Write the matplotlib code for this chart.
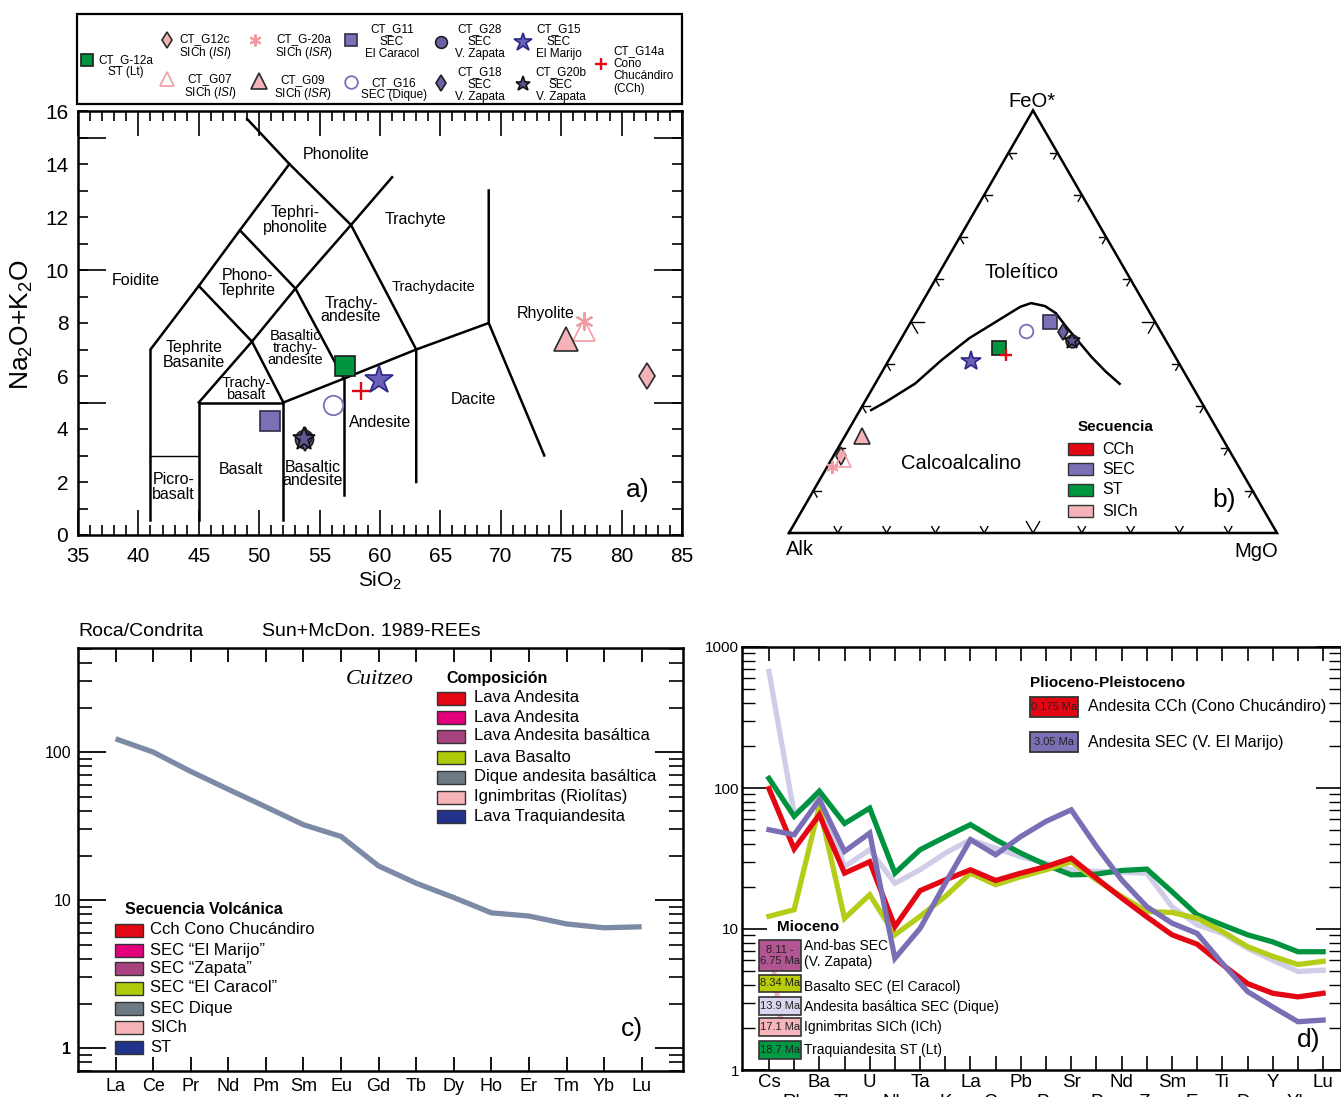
import numpy as np
import matplotlib.pyplot as plt
from matplotlib.patches import Rectangle
from matplotlib.ticker import (MultipleLocator, FixedLocator, FuncFormatter,
                               LogLocator, NullFormatter)

plt.rcParams['font.family'] = ['Liberation Sans', 'DejaVu Sans']
plt.rcParams['mathtext.fontset'] = 'custom'
plt.rcParams['mathtext.rm'] = 'Liberation Sans'
plt.rcParams['mathtext.it'] = 'Liberation Sans:italic'
plt.rcParams['mathtext.bf'] = 'Liberation Sans:bold'

W, H = 1341, 1097

# ---------------- data ----------------
# samples shared by the TAS (a) and AFM (b) diagrams
samples = ['CT_G-12a', 'CT_G12c', 'CT_G07', 'CT_G-20a', 'CT_G09', 'CT_G11',
           'CT_G16', 'CT_G28', 'CT_G18', 'CT_G15', 'CT_G20b', 'CT_G14a']
sample_text = ['CT_G-12a\nST (Lt)', 'CT_G12c\nSICh ($\\mathit{ISI}$)',
               'CT_G07\nSICh ($\\mathit{ISI}$)', 'CT_G-20a\nSICh ($\\mathit{ISR}$)',
               'CT_G09\nSICh ($\\mathit{ISR}$)', 'CT_G11\nSEC\nEl Caracol',
               'CT_G16\nSEC (Dique)', 'CT_G28\nSEC\nV. Zapata', 'CT_G18\nSEC\nV. Zapata',
               'CT_G15\nSEC\nEl Marijo', 'CT_G20b\nSEC\nV. Zapata',
               'CT_G14a\nCono\nChucándiro\n(CCh)']
sio2 = [57.1, 82.1, 76.9, 76.9, 75.4, 50.9, 56.1, 53.7, 53.8, 59.9, 53.7, 58.4]
alkalis = [6.37, 6.0, 7.75, 8.07, 7.4, 4.29, 4.92, 3.62, 3.62, 5.86, 3.62, 5.42]
afm_alk = [35.0, 80.3, 80.2, 83.4, 73.6, 21.5, 27.4, 19.3, 20.1, 42.3, 19.3, 34.5]
afm_feo = [43.8, 18.2, 17.4, 15.5, 22.9, 49.9, 47.9, 45.5, 47.6, 40.7, 45.5, 42.1]
afm_mgo = [21.2, 1.5, 2.4, 1.1, 3.5, 28.6, 24.7, 35.2, 32.3, 17.0, 35.2, 23.4]

# Irvine & Baragar boundary (FeO*, MgO in %, Alk = rest)
ib_feo = [29.1, 31.1, 35.4, 40.9, 46.1, 50.4, 53.5, 54.4, 53.7, 52.0, 48.8, 45.7, 41.7, 38.2, 35.3]
ib_mgo = [2.3, 4.4, 8.2, 10.8, 13.9, 17.8, 20.6, 22.4, 25.6, 28.7, 32.4, 36.2, 41.1, 45.8, 50.1]

# TAS field boundaries (Le Bas et al. 1986)
tas_lines = [
    ([41, 41, 45, 48.4, 52.5, 49.0], [0.55, 7, 9.4, 11.5, 14, 15.7]),
    ([52.5, 57.6, 63, 63], [14, 11.7, 7, 2.0]),
    ([45, 45, 52, 52], [0.55, 5, 5, 0.55]),
    ([45, 49.4, 53, 57.6, 61], [5, 7.3, 9.3, 11.7, 13.5]),
    ([45, 49.4, 52], [9.4, 7.3, 5]),
    ([48.4, 53, 57], [11.5, 9.3, 5.9]),
    ([52, 57, 63, 69, 69], [5, 5.9, 7, 8, 13]),
    ([57, 57], [5.9, 1.5]),
    ([69, 73.6], [8, 3.0]),
]
tas_fields = ['Phonolite', 'Tephri-\nphonolite', 'Trachyte', 'Foidite', 'Phono-\nTephrite',
              'Trachy-\nandesite', 'Trachydacite', 'Rhyolite', 'Tephrite\nBasanite',
              'Basaltic\ntrachy-\nandesite', 'Trachy-\nbasalt', 'Andesite', 'Dacite',
              'Picro-\nbasalt', 'Basalt', 'Basaltic\nandesite']
field_xy = [(56.4, 14.37), (53.0, 11.9), (62.9, 11.9), (39.8, 9.6), (49.0, 9.5),
            (57.6, 8.5), (64.4, 9.34), (73.7, 8.36), (44.6, 6.8), (53.0, 7.05),
            (48.9, 5.5), (60.0, 4.24), (67.7, 5.1), (42.9, 1.8), (48.5, 2.46), (54.4, 2.3)]

# c) REE chondrite normalised
ree = ['La', 'Ce', 'Pr', 'Nd', 'Pm', 'Sm', 'Eu', 'Gd', 'Tb', 'Dy', 'Ho', 'Er', 'Tm', 'Yb', 'Lu']
ree_norm = [123, 100, 74, 56, 42.6, 32.3, 26.9, 17.0, 13.0, 10.4, 8.2, 7.8, 6.9, 6.5, 6.6]
comp_labels = ['Lava Andesita', 'Lava Andesita', 'Lava Andesita basáltica', 'Lava Basalto',
               'Dique andesita basáltica', 'Ignimbritas (Riolítas)', 'Lava Traquiandesita']
seq_labels = ['Cch Cono Chucándiro', 'SEC “El Marijo”', 'SEC “Zapata”', 'SEC “El Caracol”',
              'SEC Dique', 'SICh', 'ST']
leg_colors = ['#e30613', '#e4007c', '#a8437f', '#afca0b', '#6d7a84', '#f6b4b8', '#22318a']

# d) multi-element spider diagram
spider = ['Cs', 'Rb', 'Ba', 'Th', 'U', 'Nb', 'Ta', 'K', 'La', 'Ce', 'Pb', 'Pr', 'Sr', 'P',
          'Nd', 'Zr', 'Sm', 'Eu', 'Ti', 'Dy', 'Y', 'Yb', 'Lu']
dique = [671, 66, 87, 27.7, 36.5, 21.1, 26.3, 34.5, 43, 37.4, 32.6, 29.3, 26.3, 25.6,
         25.3, 24.9, 14.4, 10.7, 9.3, 7.3, 6.0, 5.0, 5.1]
st_lt = [117, 63, 95, 56, 72, 24.9, 36.5, 45, 55, 43, 34.5, 28.5, 24.2, 24.5,
         26, 26.6, 18.4, 12.6, 10.7, 9.1, 8.1, 6.9, 6.9]
caracol = [12.3, 13.7, 74, 11.9, 17.5, 9.1, 12.3, 17, 24.9, 20.6, 23.5, 26.3, 30, 22.3,
           17, 13.3, 13.1, 11.9, 9.6, 7.5, 6.4, 5.6, 5.9]
cch = [99, 37, 64.6, 24.9, 30, 10.4, 18.7, 22.3, 26.3, 22.1, 24.9, 27.7, 31.8, 22.9,
       16.6, 12.2, 9.1, 7.8, 5.6, 4.1, 3.5, 3.3, 3.5]
marijo = [50.6, 46.6, 82.6, 35.5, 47.9, 6.2, 10.1, 21.1, 43, 33.6, 45.3, 58, 70, 38.5,
          22.3, 14.4, 11, 9.3, 5.7, 3.6, 2.8, 2.2, 2.26]
plio_ages = ['0.175 Ma', '3.05 Ma']
plio_labels = ['Andesita CCh (Cono Chucándiro)', 'Andesita SEC (V. El Marijo)']
mio_ages = ['8.11 -\n6.75 Ma', '8.34 Ma', '13.9 Ma', '17.1 Ma', '18.7 Ma']
mio_labels = ['And-bas SEC\n(V. Zapata)', 'Basalto SEC (El Caracol)',
              'Andesita basáltica SEC (Dique)', 'Ignimbritas SICh (ICh)', 'Traquiandesita ST (Lt)']

# ---------------- styles ----------------
RED, PURPLE, GREEN, PINK = '#e30613', '#7b70b6', '#009640', '#f4b3b9'
style = {
    'CT_G-12a': dict(marker='s', mfc=GREEN, mec='#1e1e1e', ms=14, mew=1.2),
    'CT_G12c': dict(marker='d', mfc=PINK, mec='#2a2a2a', ms=13, mew=1.2),
    'CT_G07': dict(marker='^', mfc='none', mec='#f2a3aa', ms=16, mew=1.3),
    'CT_G-20a': dict(marker=(6, 2, 0), mfc='#f19aa3', mec='#f19aa3', ms=13, mew=1.5),
    'CT_G09': dict(marker='^', mfc=PINK, mec='#2a2a2a', ms=17, mew=1.2),
    'CT_G11': dict(marker='s', mfc=PURPLE, mec='#2e2e4a', ms=14, mew=1.2),
    'CT_G16': dict(marker='o', mfc='none', mec=PURPLE, ms=14, mew=1.3),
    'CT_G28': dict(marker='o', mfc='#6a62a8', mec='#1e1e1e', ms=13, mew=1.2),
    'CT_G18': dict(marker='d', mfc='#6a62a8', mec='#1e1e1e', ms=12, mew=1.2),
    'CT_G15': dict(marker='*', mfc='#6b62b8', mec='#2b2886', ms=21, mew=1.2),
    'CT_G20b': dict(marker='*', mfc='#5e5894', mec='#111111', ms=17, mew=1.2),
    'CT_G14a': dict(marker='+', mfc=RED, mec=RED, ms=13, mew=1.7),
}


def box(x0, y0, x1, y1):
    return [x0 / W, 1 - y1 / H, (x1 - x0) / W, (y1 - y0) / H]


def scaled(st, k):
    d = dict(st)
    d['ms'] = st['ms'] * k
    return d


fig = plt.figure(figsize=(W / 100, H / 100), dpi=100)

# ================= a) TAS =================
axa = fig.add_axes(box(78, 111, 682, 535))
for xs, ys in tas_lines:
    axa.plot(xs, ys, color='black', lw=1.8, solid_joinstyle='miter')
axa.plot([41, 45], [3, 3], color='black', lw=1.0)
for name, (fx, fy) in zip(tas_fields, field_xy):
    fs = 10.5 if name in ('Trachydacite', 'Basaltic\ntrachy-\nandesite', 'Trachy-\nbasalt') else 11.5
    ls = 0.8 if name in ('Basaltic\ntrachy-\nandesite', 'Trachy-\nbasalt', 'Basaltic\nandesite',
                         'Trachy-\nandesite') else 1.0
    axa.text(fx, fy, name, ha='center', va='center', fontsize=fs, linespacing=ls)
for name, x, y in zip(samples, sio2, alkalis):
    axa.plot(x, y, linestyle='none', zorder=5, **style[name])
axa.text(81.3, 1.7, 'a)', fontsize=19, ha='center', va='center')
axa.set_xlim(35, 85)
axa.set_ylim(0, 16)
axa.xaxis.set_major_locator(MultipleLocator(5))
axa.xaxis.set_minor_locator(MultipleLocator(1))
axa.yaxis.set_major_locator(MultipleLocator(1))
axa.yaxis.set_major_formatter(FuncFormatter(
    lambda v, p: f'{int(round(v))}' if int(round(v)) % 2 == 0 else ''))
axa.yaxis.set_minor_locator(FixedLocator([5, 10, 15]))
axa.yaxis.remove_overlapping_locs = False
axa.tick_params(axis='x', which='major', direction='in', length=18, width=1.2,
                top=True, labelsize=15, pad=9)
axa.tick_params(axis='x', which='minor', direction='in', length=7, width=1.2, top=True)
axa.tick_params(axis='y', which='major', direction='in', length=7, width=1.2,
                right=True, labelsize=15, pad=7)
axa.tick_params(axis='y', which='minor', direction='in', length=20, width=1.2, right=True)
for sp in axa.spines.values():
    sp.set_linewidth(1.8)

# ================= b) AFM =================
s3 = np.sqrt(3) / 2
axb = fig.add_axes(box(760, 80, 1320, 580))
axb.set_xlim((760 - 789) / 488, (1320 - 789) / 488)
axb.set_ylim((533 - 580) / 488, (533 - 80) / 488)
axb.axis('off')


def tern(a, f, m):
    a, f, m = (np.asarray(v, float) for v in (a, f, m))
    tot = a + f + m
    return (m + f / 2) / tot, f / tot * s3


axb.plot([0, 1, 0.5, 0], [0, 0, s3, 0], color='black', lw=1.8, solid_joinstyle='miter')
edges = [((0, 0), (1, 0), [(0.5, s3), (-0.5, s3)]),
         ((0, 0), (0.5, s3), [(1, 0), (0.5, -s3)]),
         ((1, 0), (0.5, s3), [(-1, 0), (-0.5, -s3)])]
for p0, p1, dirs in edges:
    for i in range(1, 10):
        t = i / 10
        px = p0[0] + t * (p1[0] - p0[0])
        py = p0[1] + t * (p1[1] - p0[1])
        ln = 0.027 if i == 5 else 0.015
        for dx, dy in dirs:
            axb.plot([px, px + dx * ln], [py, py + dy * ln], color='black', lw=1.0)
cx, cy = tern(100 - np.array(ib_feo) - np.array(ib_mgo), ib_feo, ib_mgo)
axb.plot(cx, cy, color='black', lw=1.8)
tx, ty = tern(afm_alk, afm_feo, afm_mgo)
for name, x, y in zip(samples, tx, ty):
    axb.plot(x, y, linestyle='none', zorder=5, **scaled(style[name], 0.7))
axb.text(0.498, 0.885, 'FeO*', fontsize=14.5, ha='center', va='center')
axb.text(0.0225, -0.033, 'Alk', fontsize=14.5, ha='center', va='center')
axb.text(0.957, -0.037, 'MgO', fontsize=14.5, ha='center', va='center')
axb.text(0.4775, 0.533, 'Toleítico', fontsize=14.5, ha='center', va='center')
axb.text(0.352, 0.143, 'Calcoalcalino', fontsize=14.5, ha='center', va='center')
axb.text(0.891, 0.068, 'b)', fontsize=19, ha='center', va='center')

# ================= c) REE =================
axc = fig.add_axes(box(78, 648, 683, 1071))
xr = np.arange(len(ree))
axc.plot(xr, ree_norm, color='#7d8aa5', lw=3.8, solid_capstyle='butt')
axc.set_yscale('log')
axc.set_xlim(-1.0, 15.1)
axc.set_ylim(0.7, 505)
axc.set_xticks(xr)
axc.set_xticklabels(ree)
axc.yaxis.set_major_locator(FixedLocator([1, 10, 100]))
axc.yaxis.set_minor_locator(LogLocator(base=10, subs=np.arange(2, 10)))
axc.yaxis.set_minor_formatter(NullFormatter())
axc.set_yticklabels(['1', '10', '100'])
axc.get_yticklabels()[0].set_fontweight('bold')
axc.tick_params(axis='x', direction='in', length=10, width=1.3, top=True, labelsize=13, pad=5)
axc.tick_params(axis='y', which='major', direction='in', length=20, width=1.3,
                right=True, labelsize=11.5, pad=5)
axc.tick_params(axis='y', which='minor', direction='in', length=10, width=1.2, right=True)
for sp in axc.spines.values():
    sp.set_linewidth(1.8)

# ================= d) spider =================
axd = fig.add_axes(box(742, 647, 1341, 1070))
xs = np.arange(len(spider))
for vals, col in [(dique, '#cfcde8'), (st_lt, '#00933f'), (caracol, '#b5cc18'),
                  (cch, RED), (marijo, '#7a6eb4')]:
    axd.plot(xs, vals, color=col, lw=3.8, solid_joinstyle='miter')
axd.set_yscale('log')
axd.set_ylim(1, 1000)
axd.set_xlim(-1.07, 22.71)
axd.set_xticks(xs)
axd.set_xticklabels([e if i % 2 == 0 else '\n' + e for i, e in enumerate(spider)])
axd.yaxis.set_major_locator(LogLocator(base=10))
axd.yaxis.set_minor_locator(LogLocator(base=10, subs=np.arange(2, 10)))
axd.yaxis.set_minor_formatter(NullFormatter())
axd.yaxis.set_major_formatter(FuncFormatter(lambda v, p: f'{v:g}'))
axd.tick_params(axis='x', direction='in', length=10, width=1.2, top=True, labelsize=13.5,
                pad=3)
axd.tick_params(axis='y', which='major', direction='in', length=18, width=1.2,
                right=True, labelsize=11, pad=2)
axd.tick_params(axis='y', which='minor', direction='in', length=9, width=1.0, right=True)
for sp in axd.spines.values():
    sp.set_linewidth(1.8)

# ================= overlay: legends and free text =================
ov = fig.add_axes([0, 0, 1, 1])
ov.set_xlim(0, W)
ov.set_ylim(H, 0)
ov.axis('off')


def patch(x0, y0, x1, y1, color, lw=1.0):
    ov.add_patch(Rectangle((x0, y0), x1 - x0, y1 - y0, facecolor=color,
                           edgecolor='#333333', lw=lw))


# top sample legend
ov.add_patch(Rectangle((77, 14), 605, 90, facecolor='none', edgecolor='black', lw=1.6))
leg_pos = {  # marker x, marker y, text x, text y, ha
    'CT_G-12a': (87, 60, 126, 66, 'center'),
    'CT_G12c': (167, 40, 205, 47, 'center'),
    'CT_G-20a': (255, 40, 304, 47, 'center'),
    'CT_G11': (351, 40, 392, 42, 'center'),
    'CT_G28': (441, 42, 480, 42, 'center'),
    'CT_G15': (523, 42, 559, 42, 'center'),
    'CT_G14a': (601, 64, 613, 70, 'left'),
    'CT_G07': (167, 79, 210, 87, 'center'),
    'CT_G09': (259, 81, 303, 88, 'center'),
    'CT_G16': (351, 82, 394, 89, 'center'),
    'CT_G18': (441, 83, 480, 85, 'center'),
    'CT_G20b': (523, 84, 561, 85, 'center'),
}
for name, txt in zip(samples, sample_text):
    mx, my, lx, ly, ha = leg_pos[name]
    ov.plot(mx, my, linestyle='none', **scaled(style[name], 0.65))
    ov.text(lx, ly, txt, fontsize=8.5, ha=ha, va='center', linespacing=1.05)

# axis titles for a)
ov.text(22, 325, 'Na$_2$O+K$_2$O', fontsize=19, rotation=90, ha='center', va='center')
ov.text(380, 581, 'SiO$_2$', fontsize=15, ha='center', va='center')

# legend b)
ov.text(1116, 427, 'Secuencia', fontsize=11, fontweight='bold', ha='center', va='center')
for lab, col, yc in zip(['CCh', 'SEC', 'ST', 'SICh'], [RED, PURPLE, GREEN, PINK],
                        [449, 469, 490, 511]):
    patch(1068, yc - 6, 1093, yc + 6, col)
    ov.text(1102, yc, lab, fontsize=11.5, ha='left', va='center')

# texts and legends c)
ov.text(78, 632, 'Roca/Condrita', fontsize=14, ha='left', va='center')
ov.text(262, 632, 'Sun+McDon. 1989-REEs', fontsize=14, ha='left', va='center')
ov.text(380, 679, 'Cuitzeo', fontsize=16, family='Liberation Serif', style='italic',
        ha='center', va='center')
ov.text(446, 679, 'Composición', fontsize=11.5, fontweight='bold', ha='left', va='center')
for lab, col, yc in zip(comp_labels, leg_colors, [698, 717, 736, 757, 777, 797, 816]):
    patch(437, yc - 6.5, 465, yc + 6.5, col)
    ov.text(474, yc, lab, fontsize=12, ha='left', va='center')
ov.text(125, 909, 'Secuencia Volcánica', fontsize=11.5, fontweight='bold', ha='left',
        va='center')
for lab, col, yc in zip(seq_labels, leg_colors, [930, 950, 968, 988, 1008, 1027, 1047]):
    patch(115, yc - 6.5, 143, yc + 6.5, col)
    ov.text(150, yc, lab, fontsize=12, ha='left', va='center')
ov.text(632, 1029, 'c)', fontsize=19, ha='center', va='center')

# legends d)
ov.text(1030, 683, 'Plioceno-Pleistoceno', fontsize=11, fontweight='bold', ha='left',
        va='center')
for age, lab, col, (y0, y1) in zip(plio_ages, plio_labels, [RED, '#7a6eb4'],
                                   [(697, 717), (732, 752)]):
    patch(1030, y0, 1078, y1, col, lw=1.3)
    ov.text(1054, (y0 + y1) / 2, age, fontsize=8, ha='center', va='center', color='#222222')
    ov.text(1088, (y0 + y1) / 2, lab, fontsize=11.5, ha='left', va='center')
ov.text(777, 927, 'Mioceno', fontsize=11, fontweight='bold', ha='left', va='center')
ov.plot([772, 782], [958, 1030], color='#f6b4b8', lw=3.5, zorder=1)
mio_colors = ['#b25592', '#b8cc0a', '#d9d6ee', '#f6b5bb', '#009a44']
mio_boxes = [(940, 971), (975, 992), (997, 1015), (1018, 1036), (1041, 1059)]
mio_text_y = [954, 987, 1007, 1027, 1050]
for age, lab, col, (y0, y1), ly in zip(mio_ages, mio_labels, mio_colors, mio_boxes, mio_text_y):
    patch(759, y0, 801, y1, col, lw=1.2)
    ov.text(780, (y0 + y1) / 2, age, fontsize=8, ha='center', va='center',
            color='#222222', linespacing=1.1)
    ov.text(804, ly, lab, fontsize=10, ha='left', va='center', linespacing=1.1)
ov.text(1309, 1040, 'd)', fontsize=19, ha='center', va='center')

fig.savefig('out.png', dpi=100)
